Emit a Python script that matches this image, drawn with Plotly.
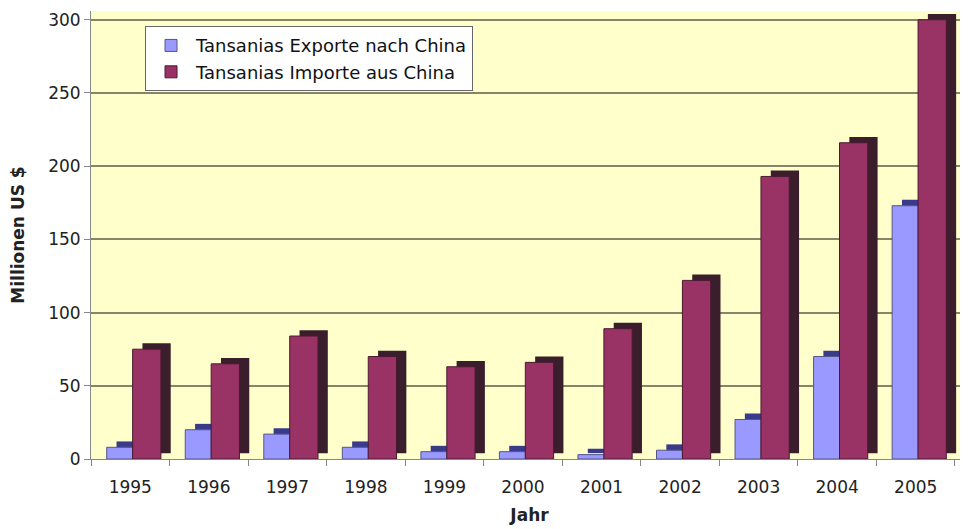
import plotly.graph_objects as go

years = ["1995", "1996", "1997", "1998", "1999", "2000", "2001", "2002", "2003", "2004", "2005"]
exports = [8, 20, 17, 8, 5, 5, 3, 6, 27, 70, 173]
imports = [75, 65, 84, 70, 63, 66, 89, 122, 193, 216, 300]

name_exp = "Tansanias Exporte nach China"
name_imp = "Tansanias Importe aus China"

col_exp = "#9999FF"
col_exp_dark = "#3A3A8C"
col_imp = "#993366"
col_imp_dark = "#3B1E2B"

depth_x = 0.125   # category units for pseudo-3D depth
depth_y = 4       # value units for pseudo-3D depth

fig = go.Figure()

# blue: shadow then front
fig.add_trace(go.Bar(x=years, y=exports, base=depth_y, offset=-0.30 + depth_x, width=0.33,
                     marker=dict(color=col_exp_dark, line=dict(width=0)),
                     showlegend=False, hoverinfo="skip"))
fig.add_trace(go.Bar(x=years, y=exports, offset=-0.30, width=0.33, name=name_exp,
                     marker=dict(color=col_exp, line=dict(color="#555588", width=1))))
# maroon: shadow then front
fig.add_trace(go.Bar(x=years, y=imports, base=depth_y, offset=0.03 + depth_x, width=0.36,
                     marker=dict(color=col_imp_dark, line=dict(width=0)),
                     showlegend=False, hoverinfo="skip"))
fig.add_trace(go.Bar(x=years, y=imports, offset=0.03, width=0.36, name=name_imp,
                     marker=dict(color=col_imp, line=dict(color="#4a1a30", width=1))))

fig.update_layout(
    width=968, height=529,
    margin=dict(l=83, r=8, t=3, b=78),
    paper_bgcolor="white",
    plot_bgcolor="#FFFFCC",
    barmode="overlay",
    font=dict(family="DejaVu Sans", size=17, color="#222222"),
    legend=dict(
        x=0.0616, y=0.966, xanchor="left", yanchor="top",
        bgcolor="white", bordercolor="#666666", borderwidth=1,
        font=dict(family="DejaVu Sans", size=18, color="#111111"),
        traceorder="normal",
        itemwidth=40,
    ),
    xaxis=dict(
        type="category",
        range=[-0.5, 10.666],
        showgrid=False,
        showline=True, linecolor="#888888", linewidth=1,
        ticks="outside", tickson="boundaries", ticklen=6, tickcolor="#888888",
        ticklabelstandoff=13,
        tickfont=dict(size=17),
        title=dict(text="<b>Jahr</b>", font=dict(size=17), standoff=12),
    ),
    yaxis=dict(
        range=[0, 306],
        tickvals=[0, 50, 100, 150, 200, 250, 300],
        showgrid=True, gridcolor="#85856A", gridwidth=2,
        showline=True, linecolor="#888888", linewidth=1,
        ticks="outside", ticklen=6, tickcolor="#888888",
        tickfont=dict(size=17),
        zeroline=False,
        title=dict(text="<b>Millionen US $</b>", font=dict(size=17), standoff=21),
    ),
)

fig.write_html("out.html")
